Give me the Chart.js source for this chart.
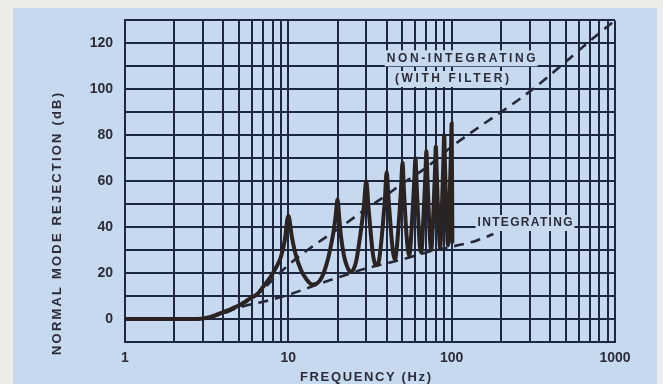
<!DOCTYPE html>
<html>
<head>
<meta charset="utf-8">
<script src="https://cdn.jsdelivr.net/npm/chart.js"></script>
<style>
  html, body { margin: 0; padding: 0; background: #eeece6; }
</style>
</head>
<body>
<canvas id="myChart" width="663" height="384"></canvas>
<script>
// solid curve (measured response, peaks at multiples of 10 Hz)
const solidFreq = [1, 2, 2.8, 3.3, 4, 5, 6, 6.5, 7, 7.8, 8.5, 9, 9.5, 10,
  10.5, 11, 12, 13, 14, 15, 16, 17, 18, 19, 19.5, 20,
  20.5, 21, 22, 23, 24, 25, 26, 27, 28, 29, 30,
  31, 32, 33, 34, 35, 36, 37, 38, 39, 40,
  41, 42, 43, 44, 45, 46, 47, 48, 49, 50,
  51, 52, 53, 54, 55, 56, 57, 58, 59, 60,
  61, 62, 63, 64, 65, 66, 67, 68, 69, 70,
  71, 72, 73, 74, 75, 76, 77, 78, 79, 80,
  81, 82, 83, 84, 85, 86, 87, 88, 89, 90,
  91, 92, 93, 94, 95, 96, 97, 98, 99, 100, 101]
const solidDb = [0, 0, 0, 0.8, 3, 6, 9.5, 11, 14, 18.5, 23, 27, 34, 45,
  36, 29, 21, 17, 15, 15.5, 18, 23, 30, 39, 45, 52,
  44, 36, 27, 22.5, 20.5, 21.5, 25, 32, 40, 49, 60,
  48, 37, 28, 24, 23.5, 26, 33, 42, 52, 64,
  53, 43, 34, 28, 26, 30, 38, 47, 57, 68,
  56, 45, 36, 30, 27.5, 32, 41, 50, 60, 70,
  59, 48, 38, 31, 29, 33, 43, 52, 62, 73,
  62, 51, 40, 33, 30, 35, 44, 54, 64, 75,
  64, 53, 42, 35, 31, 36, 47, 58, 69, 80,
  67, 55, 44, 36, 32, 38, 50, 62, 73, 85, 33]

// dashed: non-integrating (with filter)
const nonIntFreq = [3.2, 4, 5, 6, 7, 8, 9, 10, 12, 15, 20, 30, 40, 50, 70, 100, 150, 200, 300, 500, 700, 1000]
const nonIntDb = [0.5, 2.5, 5.5, 9, 13, 17, 20.5, 23.5, 28, 33, 39, 48, 54, 59, 66, 75, 84, 90, 99, 112, 121, 130]

// dashed: integrating
const intFreq = [3.3, 4, 5, 6, 7, 8, 10, 15, 20, 30, 50, 70, 100, 140, 180]
const intDb = [0.5, 2.5, 5, 6.5, 7.5, 8.5, 10.5, 15, 18, 22, 26, 29, 31.5, 34, 37]

const xTicks = [1, 2, 3, 4, 5, 6, 7, 8, 9, 10, 20, 30, 40, 50, 60, 70, 80, 90,
  100, 200, 300, 400, 500, 600, 700, 800, 900, 1000]
const xLabels = [1, 10, 100, 1000]
const yLabels = [0, 20, 40, 60, 80, 100, 120]

const gridColor = '#1d2740'
const inkColor = '#2b2c38'
const fontFamily = '"Liberation Sans", Arial, sans-serif'

function toPoints(xs, ys) {
  return xs.map((x, i) => ({ x: x, y: ys[i] }))
}

// draw text stretched to a given width (hand lettering is wide)
function fitText(c, text, x, y, width) {
  c.letterSpacing = '0px'
  const w = c.measureText(text).width
  const sp = (width - w) / Math.max(text.length - 1, 1)
  c.letterSpacing = sp + 'px'
  c.fillText(text, x, y)
  c.letterSpacing = '0px'
}

const decor = {
  id: 'decor',
  beforeDraw(chart) {
    const c = chart.ctx
    c.save()
    c.fillStyle = '#c6d9ee'
    c.fillRect(13, 8, 644, 376)
    c.restore()
  },
  afterDatasetsDraw(chart) {
    const c = chart.ctx
    const sx = chart.scales.x
    const sy = chart.scales.y
    c.save()
    c.font = 'bold 12px ' + fontFamily
    c.textBaseline = 'middle'
    c.textAlign = 'left'
    const labels = [
      { text: 'NON-INTEGRATING', f: 40, db: 113.5, w: 149 },
      { text: '(WITH FILTER)', f: 45, db: 104.5, w: 114 },
      { text: 'INTEGRATING', f: 144, db: 41.8, w: 95 }
    ]
    labels.forEach(l => {
      const x = sx.getPixelForValue(l.f)
      const y = sy.getPixelForValue(l.db)
      c.fillStyle = '#c6d9ee'
      c.fillRect(x - 2, y - 8, l.w + 4, 16)
      c.fillStyle = inkColor
      fitText(c, l.text, x, y, l.w)
    })

    // axis titles
    c.font = 'bold 13px ' + fontFamily
    fitText(c, 'FREQUENCY (Hz)', 300, 377, 131)
    c.translate(57, 224)
    c.rotate(-Math.PI / 2)
    fitText(c, 'NORMAL MODE REJECTION (dB)', -131, 0, 262)
    c.restore()
  }
}

const ctx = document.getElementById('myChart').getContext('2d')
const myChart = new Chart(ctx, {
  type: 'line',
  data: {
    datasets: [{
      label: 'response',
      data: toPoints(solidFreq, solidDb),
      borderColor: '#2a2322',
      borderWidth: 4,
      pointRadius: 0,
      cubicInterpolationMode: 'monotone',
      fill: false
    }, {
      label: 'NON-INTEGRATING (WITH FILTER)',
      data: toPoints(nonIntFreq, nonIntDb),
      borderColor: '#242838',
      borderWidth: 2.6,
      borderDash: [10, 7],
      pointRadius: 0,
      cubicInterpolationMode: 'monotone',
      fill: false
    }, {
      label: 'INTEGRATING',
      data: toPoints(intFreq, intDb),
      borderColor: '#242838',
      borderWidth: 2.6,
      borderDash: [10, 7],
      pointRadius: 0,
      cubicInterpolationMode: 'monotone',
      fill: false
    }]
  },
  options: {
    responsive: false,
    animation: false,
    devicePixelRatio: 1,
    layout: { padding: { top: 17, right: 48, left: 0, bottom: 0 } },
    plugins: {
      legend: { display: false },
      tooltip: { enabled: false }
    },
    scales: {
      x: {
        type: 'logarithmic',
        min: 1,
        max: 1000,
        afterBuildTicks: (scale) => { scale.ticks = xTicks.map(v => ({ value: v })) },
        afterFit: (scale) => { scale.height = 42 },
        ticks: {
          autoSkip: false,
          maxRotation: 0,
          padding: 8,
          color: inkColor,
          font: { family: fontFamily, size: 14, weight: 'bold' },
          callback: (v) => xLabels.includes(v) ? String(v) : ''
        },
        grid: { color: gridColor, lineWidth: 2, drawTicks: false },
        border: { color: gridColor, width: 2 }
      },
      y: {
        type: 'linear',
        min: -10,
        max: 130,
        afterFit: (scale) => { scale.width = 125 },
        ticks: {
          stepSize: 10,
          padding: 12,
          color: inkColor,
          font: { family: fontFamily, size: 14, weight: 'bold' },
          callback: (v) => yLabels.includes(v) ? String(v) : ''
        },
        grid: { color: gridColor, lineWidth: 2, drawTicks: false },
        border: { color: gridColor, width: 2 }
      }
    }
  },
  plugins: [decor]
})
</script>
</body>
</html>
